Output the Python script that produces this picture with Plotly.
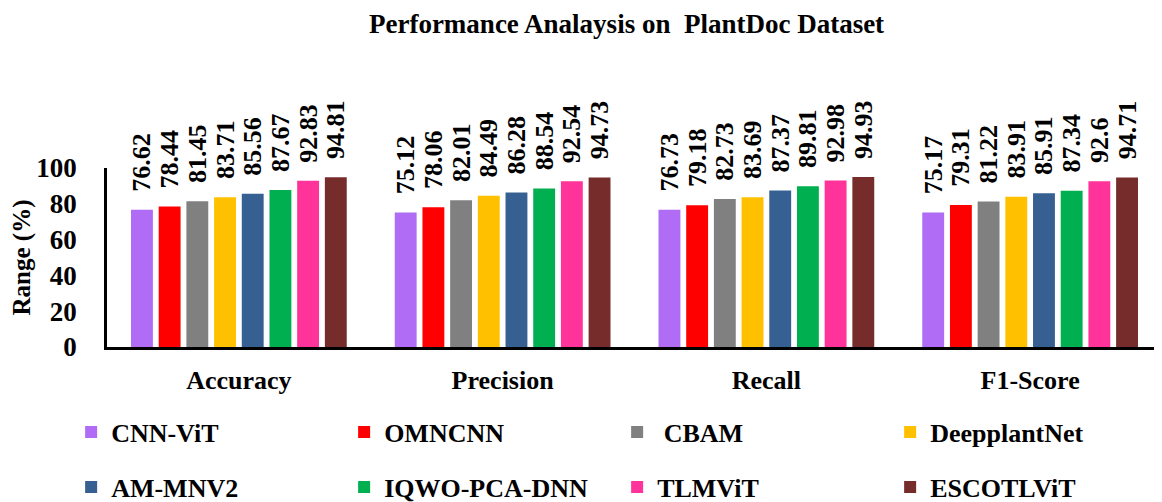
import plotly.graph_objects as go

categories = ["Accuracy", "Precision", "Recall", "F1-Score"]
models = ["CNN-ViT", "OMNCNN", "CBAM", "DeepplantNet",
          "AM-MNV2", "IQWO-PCA-DNN", "TLMViT", "ESCOTLViT"]
legend_names = ["CNN-ViT", "OMNCNN", "\u00a0CBAM", "DeepplantNet",
                "AM-MNV2", "IQWO-PCA-DNN", "TLMViT", "ESCOTLViT"]
colors = ["#B06CF5", "#FF0000", "#808080", "#FFC000",
          "#376092", "#00B050", "#FF3399", "#772C2C"]

cnn_vit = [76.62, 75.12, 76.73, 75.17]
omncnn = [78.44, 78.06, 79.18, 79.31]
cbam = [81.45, 82.01, 82.73, 81.22]
deepplantnet = [83.71, 84.49, 83.69, 83.91]
am_mnv2 = [85.56, 86.28, 87.37, 85.91]
iqwo_pca_dnn = [87.67, 88.54, 89.81, 87.34]
tlmvit = [92.83, 92.54, 92.98, 92.6]
escotlvit = [94.81, 94.73, 94.93, 94.71]

series = [cnn_vit, omncnn, cbam, deepplantnet, am_mnv2, iqwo_pca_dnn, tlmvit, escotlvit]
y_ticks = [0, 20, 40, 60, 80, 100]

FONT = "Liberation Serif"

def bfont(size):
    return dict(family=FONT, size=size, color="black", weight="bold")

fig = go.Figure()
for i, (name, vals, col) in enumerate(zip(legend_names, series, colors)):
    fig.add_trace(go.Bar(
        x=categories, y=vals, name=name,
        marker=dict(color=col, line=dict(width=0)),
        text=vals,
        texttemplate="\u00a0\u00a0\u200a%{y}",
        textposition="outside",
        textangle=-90,
        constraintext="none",
        cliponaxis=False,
        textfont=bfont(26),
        legend="legend" if i < 4 else "legend2",
    ))

legend_common = dict(
    orientation="h",
    xanchor="left",
    yanchor="middle",
    entrywidth=228,
    entrywidthmode="pixels",
    font=bfont(26),
    bgcolor="rgba(0,0,0,0)",
)

fig.update_layout(
    width=1154, height=494,
    paper_bgcolor="white", plot_bgcolor="white",
    margin=dict(l=99, r=0, t=160, b=155, autoexpand=False),
    barmode="group",
    bargap=0.16,
    bargroupgap=0.21,
    title=dict(text="Performance Analaysis on \u00a0PlantDoc Dataset",
               x=0.536, xanchor="center", y=0.9676, yanchor="middle",
               font=bfont(27)),
    font=dict(family=FONT, color="black"),
    showlegend=True,
    legend=dict(x=-0.034, y=-0.475, **legend_common),
    legend2=dict(x=-0.034, y=-0.782, **legend_common),
)

fig.update_xaxes(
    showline=True, linecolor="black", linewidth=2.5,
    showgrid=False, ticks="",
    tickfont=bfont(26),
    ticklabelstandoff=8,
)
fig.update_yaxes(
    range=[0, 100],
    tickvals=y_ticks,
    showline=True, linecolor="black", linewidth=2.5,
    showgrid=False, zeroline=False, ticks="",
    tickfont=bfont(27),
    ticklabelstandoff=22,
    title=dict(text="Range (%)", standoff=3, font=bfont(25)),
)

fig.write_html("out.html")
